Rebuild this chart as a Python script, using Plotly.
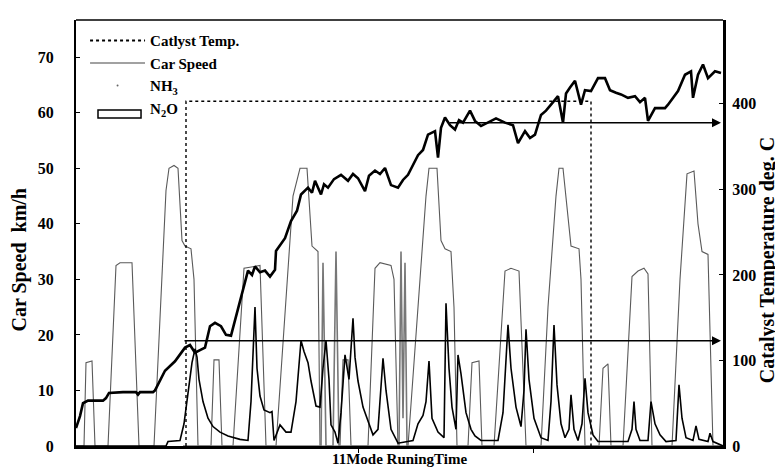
import plotly.graph_objects as go

# Tiempo de ensayo (s) y velocidad del vehiculo (km/h), 5 ciclos 11 modos
tiempo_vel = [0, 8, 10, 16, 19, 32, 40, 44, 56, 63, 78, 90, 93, 98, 102, 106, 109, 115, 118, 122,
              135, 138, 143, 146, 157, 168, 184, 190, 200, 217, 224, 231, 236, 242, 244,
              264, 267, 272, 275, 292, 299, 304, 315, 318, 322, 332, 344, 350, 353, 361, 365, 369, 375, 378, 381,
              392, 396, 403, 406, 418, 429, 435, 443, 450, 465, 472, 480, 483, 487, 490, 495, 503, 505, 509,
              523, 527, 532, 535, 547, 556, 562, 568, 572, 576, 596, 604, 611, 618, 622, 626, 632, 637, 647]
velocidad = [0, 0, 15, 15.3, 0, 0, 32.5, 33, 33, 0, 0, 46, 50, 50.5, 50, 37, 36, 35.5, 30, 0,
             0, 15.5, 15.5, 0, 0, 32, 32.5, 0, 0, 45, 50, 50, 36, 35, 0,
             0, 15.5, 15.5, 0, 0, 32, 33, 32.5, 30, 0, 0, 30, 45, 50, 50, 37, 35.5, 35, 25, 0,
             0, 15, 15.3, 0, 0, 31.5, 32, 31.5, 0, 0, 25, 45, 50, 50, 45, 36, 35.5, 30, 0,
             0, 14, 14.8, 0, 0, 30.5, 31.5, 32, 31, 0, 0, 30, 49, 49.5, 40, 35, 34.5, 0, 0]

# Temperatura del catalizador (deg C)
tiempo_cat = [0, 4, 7, 12, 27, 30, 33, 47, 60, 62, 64, 77, 79, 89, 99, 109, 114, 119, 124, 129,
              134, 139, 145, 150, 155, 162, 165, 172, 176, 179, 184, 189, 194, 199, 200, 209, 215,
              221, 225, 232, 236, 239, 245, 248, 252, 258, 265, 272, 277, 282, 289, 293, 299, 304,
              309, 315, 322, 327, 332, 342, 347, 352, 359, 362, 365, 369, 374, 379, 383, 387, 394,
              399, 405, 412, 420, 429, 437, 442, 449, 454, 459, 465, 470, 475, 482, 487, 490, 494,
              499, 505, 509, 515, 522, 529, 534, 540, 545, 552, 559, 564, 569, 572, 579, 589, 592,
              602, 606, 609, 615, 617, 622, 627, 632, 639, 645]
temp_cat = [21, 35, 50, 53, 53, 56, 62, 63, 63, 60, 63, 63, 65, 88, 99, 115, 118, 109, 112, 115,
            140, 144, 140, 130, 129, 161, 173, 205, 200, 210, 203, 205, 198, 206, 228, 243, 263,
            275, 294, 302, 296, 310, 294, 306, 302, 312, 317, 310, 318, 313, 298, 316, 322, 318,
            325, 305, 302, 311, 317, 340, 346, 364, 368, 337, 372, 384, 375, 370, 381, 378, 392,
            380, 374, 378, 383, 378, 375, 354, 368, 360, 364, 387, 392, 399, 409, 378, 412, 419,
            427, 399, 416, 415, 430, 430, 416, 413, 411, 407, 409, 402, 407, 380, 395, 395, 399,
            415, 425, 434, 438, 407, 434, 446, 430, 438, 436]

# N2O (escala relativa sobre el eje izquierdo)
tiempo_n2o = [0, 90, 92, 104, 108, 112, 116, 119, 121, 123, 127, 132, 137, 144, 152, 164, 172,
              175, 179, 181, 184, 188, 194, 196, 198, 204, 210, 215, 220, 225, 228, 232, 235, 240,
              244, 247, 250, 253, 255, 259, 262, 265, 269, 273, 277, 279, 282, 287, 292, 297, 302,
              307, 310, 315, 322, 337, 342, 347, 350, 353, 356, 362, 368, 370, 373, 376, 380, 382,
              385, 390, 395, 399, 405, 422, 427, 432, 435, 440, 445, 448, 450, 453, 458, 465, 472,
              475, 478, 481, 485, 489, 493, 495, 498, 502, 506, 509, 512, 517, 522, 552, 556, 558,
              560, 564, 572, 575, 579, 584, 590, 600, 603, 606, 610, 617, 620, 623, 632, 634, 637, 647]
n2o = [0, 0, 0.8, 1, 4, 10, 15, 17.5, 16, 12, 8, 5, 3.5, 2.5, 1.8, 1.2, 1,
       8, 25, 14, 9, 6.5, 6, 6.2, 1, 3.8, 2.5, 2.5, 8, 19, 17, 15, 11.7, 7.2,
       7, 14, 19, 12, 3.8, 2.5, 0.5, 6, 16.4, 12, 23, 16, 11.7, 7, 4.5, 2, 3,
       15.8, 10, 3, 0.5, 1, 4, 5.5, 8, 15.3, 5, 2.5, 1.5, 25.7, 14, 7, 3, 16.4,
       13, 6, 3, 1.8, 1, 1, 6, 21.8, 14, 7, 3.5, 10, 21, 12, 5, 1.5, 1,
       8, 21.8, 11, 4, 1.5, 3, 9.2, 3, 1, 4, 12.2, 6, 2, 0.8, 0.8, 3, 8,
       3, 1, 1, 8, 4, 2, 0.8, 1, 11, 5, 1.5, 1, 3.6, 1.2, 0.8, 2.3, 0.8, 0]

# NH3 (escala relativa sobre el eje izquierdo)
tiempo_nh3 = [107, 245, 247, 250, 257, 260, 263, 323, 325, 327, 329, 331, 647]
nh3 = [0, 0, 33, 0, 0, 35, 0, 0, 35, 5, 33, 0, 0]

# Marcas de referencia: periodo punteado y flechas de temperatura
tiempo_ref = [110, 515]
temp_ref_caja = 403
flecha_t_inicio = [107, 372]
flecha_temp = [123, 378]
flecha_t_fin = 645
tiempo_max = 647
ticks_tiempo = [282, 457]

FUENTE = "Liberation Serif"


def crear_grafico_11modo():
    """
    Crea el grafico de velocidad, temperatura del catalizador, NH3 y N2O
    durante el ensayo de 11 modos.
    """
    fig = go.Figure()

    # Series reales (sin leyenda, la leyenda usa muestras aparte)
    fig.add_trace(go.Scatter(x=tiempo_vel, y=velocidad, mode='lines', yaxis='y',
                             line=dict(color='#5a5a5a', width=1.1), showlegend=False))
    fig.add_trace(go.Scatter(x=tiempo_nh3, y=nh3, mode='lines', yaxis='y',
                             line=dict(color='#777777', width=1.6), showlegend=False))
    fig.add_trace(go.Scatter(x=tiempo_n2o, y=n2o, mode='lines', yaxis='y',
                             line=dict(color='black', width=1.6), showlegend=False))
    fig.add_trace(go.Scatter(x=tiempo_cat, y=temp_cat, mode='lines', yaxis='y2',
                             line=dict(color='black', width=2.6), showlegend=False))

    # Caja punteada de referencia
    fig.add_trace(go.Scatter(
        x=[tiempo_ref[0], tiempo_ref[0], tiempo_ref[1], tiempo_ref[1]],
        y=[0, temp_ref_caja, temp_ref_caja, 0],
        mode='lines', yaxis='y2',
        line=dict(color='black', width=1.4, dash='dot'), showlegend=False))

    # Muestras de leyenda
    fig.add_trace(go.Scatter(x=[None], y=[None], mode='lines', name='Catlyst Temp.',
                             legendgroup='a', line=dict(color='black', width=2, dash='dot')))
    fig.add_trace(go.Scatter(x=[None], y=[None], mode='lines', name='Car Speed',
                             legendgroup='b', line=dict(color='#444444', width=1.2)))
    fig.add_trace(go.Scatter(x=[None], y=[None], mode='markers', name='NH<sub>3</sub>',
                             legendgroup='c', marker=dict(color='#666666', size=2)))
    fig.add_trace(go.Scatter(x=[None], y=[None], mode='lines', name='N<sub>2</sub>O',
                             legendgroup='d', line=dict(color='rgba(0,0,0,0)', width=0)))

    # Flechas horizontales de temperatura
    for t0, temp in zip(flecha_t_inicio, flecha_temp):
        fig.add_annotation(x=flecha_t_fin, y=temp, xref='x', yref='y2',
                           ax=t0, ay=temp, axref='x', ayref='y2',
                           text='', showarrow=True, arrowhead=2, arrowsize=1.2,
                           arrowwidth=1.5, arrowcolor='black')

    fuente_ticks = dict(family=FUENTE, size=16, color='black', weight='bold')
    fuente_titulo = dict(family=FUENTE, size=20, color='black', weight='bold')

    fig.update_layout(
        width=783, height=468,
        margin=dict(l=68, r=68, t=12, b=30),
        paper_bgcolor='white', plot_bgcolor='white',
        xaxis=dict(range=[0, tiempo_max], showgrid=False, zeroline=False,
                   showline=True, linecolor='black', linewidth=3,
                   tickvals=ticks_tiempo, ticks='outside', ticklen=4, tickcolor='black',
                   showticklabels=False),
        yaxis=dict(range=[0, 76.7], showgrid=False, zeroline=False,
                   showline=True, linecolor='black', linewidth=2,
                   tickvals=[0, 10, 20, 30, 40, 50, 60, 70], ticks='inside', ticklen=4,
                   tickcolor='black', tickfont=fuente_ticks, ticklabelstandoff=17),
        yaxis2=dict(range=[0, 498], overlaying='y', side='right', showgrid=False,
                    zeroline=False, showline=True, linecolor='black', linewidth=3,
                    tickvals=[0, 100, 200, 300, 400], ticks='inside', ticklen=4,
                    tickcolor='black', tickfont=fuente_ticks, ticklabelstandoff=3),
        legend=dict(x=0.014, y=0.99, xanchor='left', yanchor='top',
                    bgcolor='rgba(0,0,0,0)', itemwidth=55, tracegroupgap=0,
                    font=dict(family=FUENTE, size=15, color='black', weight='bold')),
        shapes=[
            dict(type='line', xref='paper', yref='paper', x0=0, x1=1, y0=1, y1=1,
                 line=dict(color='black', width=1.5)),
            # muestra rectangular de N2O en la leyenda
            dict(type='rect', xref='paper', yref='paper', x0=0.034, x1=0.1005,
                 y0=0.770, y1=0.789, line=dict(color='black', width=1.5)),
        ],
        showlegend=True,
    )

    # Titulos de ejes
    fig.add_annotation(text='Car Speed  km/h', xref='paper', yref='paper',
                       x=-0.087, y=0.437, xanchor='center', yanchor='middle',
                       textangle=-90, showarrow=False, font=fuente_titulo)
    fig.add_annotation(text='Catalyst Temperature deg. C', xref='paper', yref='paper',
                       x=1.070, y=0.437, xanchor='center', yanchor='middle',
                       textangle=-90, showarrow=False, font=fuente_titulo)
    fig.add_annotation(text='11Mode RuningTime', xref='paper', yref='paper',
                       x=0.5, y=-0.03, xanchor='center', yanchor='middle', showarrow=False,
                       font=dict(family=FUENTE, size=15, color='black', weight='bold'))

    return fig


fig = crear_grafico_11modo()
fig.write_html("out.html")
